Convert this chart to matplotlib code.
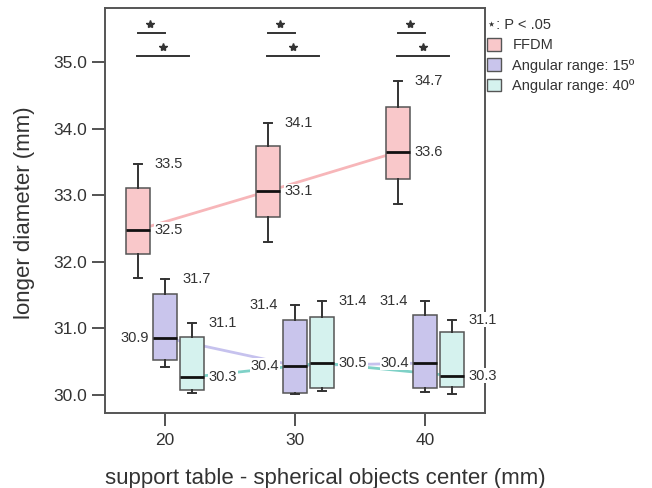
import matplotlib
matplotlib.use("Agg")
import matplotlib.pyplot as plt
from matplotlib.patches import Patch

plt.rcParams['font.family'] = ['Liberation Sans', 'DejaVu Sans']

groups = [20, 30, 40]
series = ["FFDM", "Angular range: 15\u00ba", "Angular range: 40\u00ba"]

ffdm_whislo = [31.76, 32.30, 32.87]
ffdm_q1 = [32.12, 32.67, 33.24]
ffdm_med = [32.48, 33.06, 33.65]
ffdm_q3 = [33.11, 33.74, 34.32]
ffdm_whishi = [33.47, 34.08, 34.71]

a15_whislo = [30.42, 30.02, 30.05]
a15_q1 = [30.53, 30.03, 30.10]
a15_med = [30.86, 30.44, 30.48]
a15_q3 = [31.52, 31.13, 31.20]
a15_whishi = [31.74, 31.35, 31.41]

a40_whislo = [30.03, 30.06, 30.02]
a40_q1 = [30.08, 30.11, 30.12]
a40_med = [30.27, 30.48, 30.29]
a40_q3 = [30.87, 31.17, 30.95]
a40_whishi = [31.08, 31.41, 31.13]

ffdm_top_labels = ["33.5", "34.1", "34.7"]
ffdm_med_labels = ["32.5", "33.1", "33.6"]
a15_top_labels = ["31.7", "31.4", "31.4"]
a15_med_labels = ["30.9", "30.4", "30.4"]
a40_top_labels = ["31.1", "31.4", "31.1"]
a40_med_labels = ["30.3", "30.5", "30.3"]

sig_label = "\u22c6: P < .05"
xlabel = "support table - spherical objects center (mm)"
ylabel = "longer diameter (mm)"
yticks = [30.0, 31.0, 32.0, 33.0, 34.0, 35.0]

fill_colors = ["#f9c8ca", "#c9c5ec", "#d5f2ee"]
line_colors = ["#f7b6b9", "#c6c2ee", "#7fd1c7"]
offsets = [-2.08, 0.0, 2.08]
width = 1.8
txt_col = "#333333"

fig = plt.figure(figsize=(6.52, 4.88), dpi=100)
ax = fig.add_axes([105 / 652, 75 / 488, 380 / 652, 405 / 488])
ax.set_xlim(15.385, 44.615)
ax.set_ylim(29.73, 35.81)

data = [
    (ffdm_whislo, ffdm_q1, ffdm_med, ffdm_q3, ffdm_whishi),
    (a15_whislo, a15_q1, a15_med, a15_q3, a15_whishi),
    (a40_whislo, a40_q1, a40_med, a40_q3, a40_whishi),
]

for s, (wl, q1, md, q3, wh) in enumerate(data):
    pos = [g + offsets[s] for g in groups]
    ax.plot(pos, md, color=line_colors[s], lw=2, zorder=1)
    stats = [dict(whislo=wl[i], q1=q1[i], med=md[i], q3=q3[i], whishi=wh[i], fliers=[])
             for i in range(len(groups))]
    ax.bxp(stats, positions=pos, widths=width, patch_artist=True, showfliers=False,
           capwidths=0.65, manage_ticks=False,
           boxprops=dict(facecolor=fill_colors[s], edgecolor="#555555", linewidth=1.1),
           medianprops=dict(color="#111111", linewidth=2),
           whiskerprops=dict(color="#333333", linewidth=1.4),
           capprops=dict(color="#333333", linewidth=1.4), zorder=2)

def lab(x, y, t, dx, ha):
    ax.annotate(t, (x, y), xytext=(dx, 0), textcoords='offset pixels', ha=ha, va='center',
                fontsize=10.5, color=txt_col, zorder=5, annotation_clip=False,
                bbox=dict(facecolor='white', edgecolor='none', pad=0.3))

for i, g in enumerate(groups):
    xf = g + offsets[0]
    x15 = g + offsets[1]
    x40 = g + offsets[2]
    lab(xf + width / 2, ffdm_whishi[i], ffdm_top_labels[i], 5, 'left')
    lab(xf + width / 2, ffdm_med[i], ffdm_med_labels[i], 5, 'left')
    if i == 0:
        lab(x15 + width / 2, a15_whishi[i], a15_top_labels[i], 6, 'left')
    else:
        lab(x15 - width / 2, a15_whishi[i], a15_top_labels[i], -5, 'right')
    lab(x15 - width / 2, a15_med[i], a15_med_labels[i], -4, 'right')
    lab(x40 + width / 2, a40_whishi[i], a40_top_labels[i], 5, 'left')
    lab(x40 + width / 2, a40_med[i], a40_med_labels[i], 5, 'left')

    # significance brackets
    ax.plot([xf, x15], [35.435, 35.435], color="#333333", lw=1.4)
    ax.plot([xf - 0.05, x40 - 0.2], [35.09, 35.09], color="#333333", lw=1.4)
    ax.plot([(xf + x15) / 2 - 0.1], [35.575], marker='*', ms=6, color="#333333", mec="#333333")
    ax.plot([(xf + x40) / 2 - 0.15], [35.23], marker='*', ms=6, color="#333333", mec="#333333")

ax.set_xticks(groups)
ax.set_xticklabels([str(g) for g in groups])
ax.set_yticks(yticks)
ax.set_yticklabels([f"{v:.1f}" for v in yticks])
ax.tick_params(axis='both', direction='out', length=9.5, width=1.3, color="#444444",
               labelsize=12.5, labelcolor=txt_col)
ax.tick_params(axis='y', pad=3.5)
ax.tick_params(axis='x', pad=5)
for sp in ax.spines.values():
    sp.set_color("#555555")
    sp.set_linewidth(1.4)
    sp.set_zorder(3)

ax.set_xlabel(xlabel, fontsize=16, color=txt_col)
ax.set_ylabel(ylabel, fontsize=16, color=txt_col)
ax.xaxis.set_label_coords(0.579, -0.135)
ax.yaxis.set_label_coords(-0.184, 0.494)

handles = [Patch(facecolor=fill_colors[k], edgecolor="#555555", linewidth=1.0) for k in range(3)]
leg = fig.legend(handles, series, loc='upper left', bbox_to_anchor=(484 / 652, 1 - 15 / 488),
                 frameon=False, fontsize=10.5, title=sig_label, title_fontsize=10.5,
                 alignment='left', handlelength=0.95, handleheight=0.95, handletextpad=0.8,
                 labelspacing=0.42, borderpad=0.2, borderaxespad=0)
for t in leg.get_texts():
    t.set_color(txt_col)
leg.get_title().set_color(txt_col)

fig.savefig("out.png", dpi=100)
